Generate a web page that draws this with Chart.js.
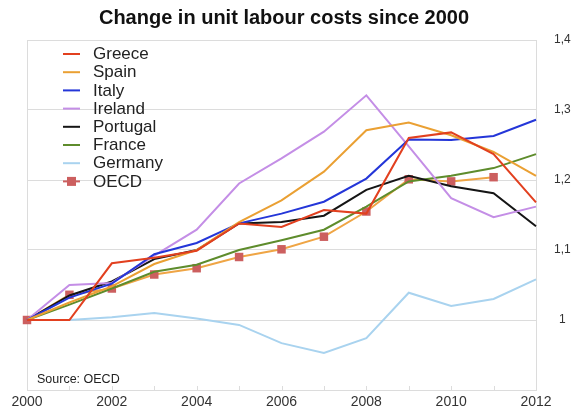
<!DOCTYPE html>
<html>
<head>
<meta charset="utf-8">
<script src="https://cdn.jsdelivr.net/npm/chart.js@4/dist/chart.umd.min.js"></script>
<style>
  html, body { margin: 0; padding: 0; background: #fff; }
  #wrap { width: 574px; height: 409px; position: relative; }
</style>
</head>
<body>
<div id="wrap"><canvas id="c" width="574" height="409"></canvas></div>
<script>
const titleText = 'Change in unit labour costs since 2000';
const sourceText = 'Source: OECD';
const years = ['2000','2001','2002','2003','2004','2005','2006','2007','2008','2009','2010','2011','2012'];
const yTickValues = [1, 1.1, 1.2, 1.3, 1.4];
const yTickLabels = ['1', '1,1', '1,2', '1,3', '1,4'];

const greece   = [1.000,1.000,1.081,1.089,1.099,1.138,1.133,1.157,1.152,1.260,1.268,1.237,1.168];
const spain    = [1.000,1.025,1.048,1.080,1.100,1.140,1.171,1.212,1.271,1.282,1.264,1.240,1.206];
const italy    = [1.000,1.032,1.052,1.094,1.110,1.138,1.152,1.169,1.202,1.258,1.257,1.263,1.286];
const ireland  = [1.000,1.050,1.053,1.092,1.129,1.195,1.231,1.269,1.321,1.248,1.174,1.147,1.162];
const portugal = [1.000,1.035,1.055,1.087,1.100,1.138,1.140,1.149,1.186,1.206,1.191,1.181,1.134];
const france   = [1.000,1.022,1.045,1.069,1.079,1.100,1.114,1.129,1.162,1.198,1.206,1.217,1.237];
const germany  = [1.000,1.000,1.004,1.010,1.002,0.993,0.967,0.953,0.974,1.039,1.020,1.030,1.058];
const oecd     = [1.000,1.036,1.045,1.065,1.074,1.090,1.101,1.119,1.155,1.201,1.198,1.204,null];

const seriesNames = ['Greece','Spain','Italy','Ireland','Portugal','France','Germany','OECD'];
const seriesData = [greece, spain, italy, ireland, portugal, france, germany, oecd];
const seriesColors = ['#e2401f','#eaa033','#2436d8','#c48ee6','#151515','#5e8c2c','#a9d3ef','#efa545'];
const oecdMarker = '#cc5f5f';

const FONT = '"Liberation Sans", Arial, sans-serif';

const datasets = seriesNames.map((name, i) => {
  const isOecd = name === 'OECD';
  return {
    label: name,
    data: seriesData[i],
    borderColor: seriesColors[i],
    backgroundColor: isOecd ? oecdMarker : seriesColors[i],
    borderWidth: 2,
    pointRadius: isOecd ? 6 : 0,
    pointStyle: 'rect',
    pointBackgroundColor: oecdMarker,
    pointBorderColor: oecdMarker,
    pointBorderWidth: 0,
    tension: 0,
    spanGaps: false,
    clip: 10
  };
});

const frame = {
  id: 'frame',
  beforeDatasetsDraw(chart) {
    const { ctx, chartArea: a, scales } = chart;
    ctx.save();
    ctx.strokeStyle = '#dcdcdc';
    ctx.lineWidth = 1;
    ctx.strokeRect(Math.round(a.left) + 0.5, Math.round(a.top) + 0.5, Math.round(a.right - a.left), Math.round(a.bottom - a.top));
    ctx.beginPath();
    years.forEach((y, i) => {
      const x = Math.round(scales.x.getPixelForValue(i)) + 0.5;
      ctx.moveTo(x, a.bottom);
      ctx.lineTo(x, a.bottom - 4);
    });
    ctx.stroke();
    ctx.restore();
  },
  afterDraw(chart) {
    const { ctx } = chart;
    ctx.save();
    // title
    ctx.font = 'bold 20px ' + FONT;
    ctx.fillStyle = '#111';
    ctx.textAlign = 'center';
    ctx.textBaseline = 'middle';
    ctx.fillText(titleText, 284, 18);
    // legend
    ctx.font = '17px ' + FONT;
    ctx.textAlign = 'left';
    seriesNames.forEach((name, i) => {
      const y = 54 + i * 18.2;
      ctx.strokeStyle = name === 'OECD' ? oecdMarker : seriesColors[i];
      ctx.lineWidth = 2;
      ctx.beginPath();
      ctx.moveTo(63, y);
      ctx.lineTo(80, y);
      ctx.stroke();
      if (name === 'OECD') {
        ctx.fillStyle = oecdMarker;
        ctx.fillRect(67, y - 4.5, 9, 9);
      }
      ctx.fillStyle = '#222';
      ctx.fillText(name, 93, y + 0.5);
    });
    // source
    ctx.font = '12.5px ' + FONT;
    ctx.fillStyle = '#222';
    ctx.fillText(sourceText, 37, 380);
    ctx.restore();
  }
};

new Chart(document.getElementById('c'), {
  type: 'line',
  data: { labels: years, datasets },
  plugins: [frame],
  options: {
    responsive: false,
    animation: false,
    layout: { padding: { left: 27, right: 0, top: 40, bottom: 0 } },
    plugins: {
      legend: { display: false },
      tooltip: { enabled: false },
      title: { display: false }
    },
    scales: {
      x: {
        type: 'category',
        offset: false,
        grid: { display: false, drawTicks: false },
        border: { display: false },
        ticks: {
          autoSkip: false,
          maxRotation: 0,
          padding: 4,
          color: '#333',
          font: { family: FONT, size: 14 },
          callback: (v, i) => (i % 2 === 0 ? years[i] : '')
        },
        afterFit(scale) { scale.height = 19; }
      },
      y: {
        position: 'right',
        min: 0.9,
        max: 1.4,
        grid: { color: '#dcdcdc', drawTicks: false, lineWidth: 1 },
        border: { display: false },
        afterBuildTicks(scale) { scale.ticks = yTickValues.map(v => ({ value: v })); },
        ticks: {
          padding: 18,
          crossAlign: 'center',
          color: '#333',
          font: { family: FONT, size: 12 },
          callback: (v) => {
            const idx = yTickValues.findIndex(t => Math.abs(t - v) < 1e-6);
            return idx >= 0 ? yTickLabels[idx] : '';
          }
        },
        afterFit(scale) {
          scale.width = 38;
          scale.paddingTop = 0;
          scale.paddingBottom = 0;
        }
      }
    }
  }
});
</script>
</body>
</html>
